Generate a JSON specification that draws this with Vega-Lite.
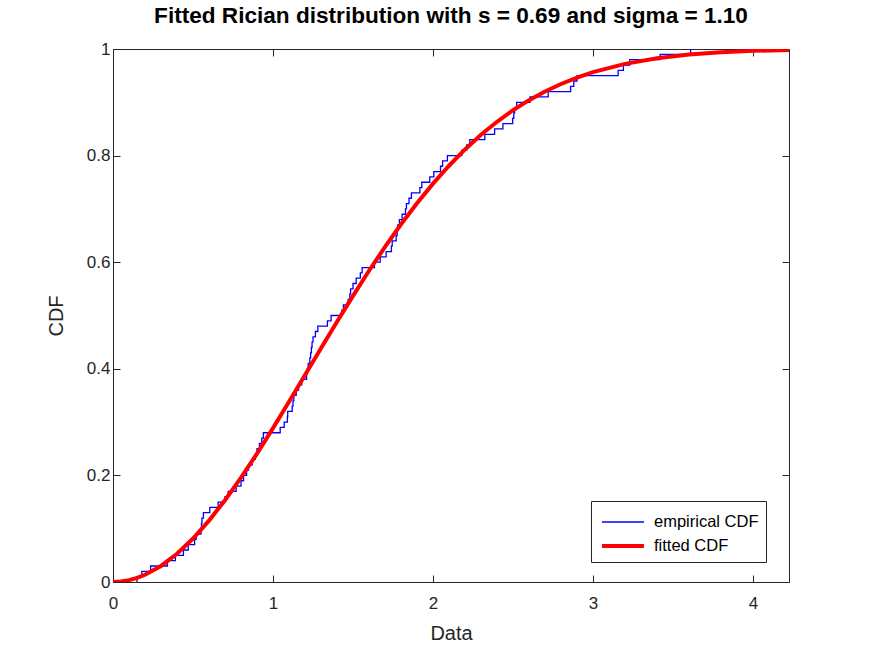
{
  "$schema": "https://vega.github.io/schema/vega-lite/v6.json",
  "autosize": {"type": "none"},
  "padding": {"left": 113, "top": 49, "right": 83, "bottom": 72},
  "width": 676,
  "height": 533,
  "background": "white",
  "config": {
    "view": {"stroke": "#262626", "strokeWidth": 1},
    "font": "Liberation Sans",
    "axis": {
      "domain": false,
      "grid": false,
      "tickColor": "#262626",
      "labelColor": "#262626",
      "titleColor": "#262626",
      "labelFont": "Liberation Sans",
      "titleFont": "Liberation Sans",
      "labelFontSize": 17,
      "titleFontSize": 20,
      "titleFontWeight": "normal",
      "labelFlush": false,
      "tickSize": -7
    }
  },
  "title": {
    "text": "Fitted Rician distribution with s = 0.69 and sigma = 1.10",
    "font": "Liberation Sans",
    "fontSize": 22.6,
    "fontWeight": "bold",
    "color": "#000000",
    "offset": 12,
    "anchor": "middle"
  },
  "resolve": {"axis": {"x": "independent", "y": "independent"}},
  "layer": [
    {
      "data": {
        "values": [
          {"series": "empirical CDF", "i": 0, "x": 0.15, "F": 0.0},
          {"series": "empirical CDF", "i": 1, "x": 0.15, "F": 0.01},
          {"series": "empirical CDF", "i": 2, "x": 0.18, "F": 0.02},
          {"series": "empirical CDF", "i": 3, "x": 0.235, "F": 0.03},
          {"series": "empirical CDF", "i": 4, "x": 0.34, "F": 0.04},
          {"series": "empirical CDF", "i": 5, "x": 0.39, "F": 0.05},
          {"series": "empirical CDF", "i": 6, "x": 0.44, "F": 0.06},
          {"series": "empirical CDF", "i": 7, "x": 0.47, "F": 0.07},
          {"series": "empirical CDF", "i": 8, "x": 0.51, "F": 0.08},
          {"series": "empirical CDF", "i": 9, "x": 0.52, "F": 0.09},
          {"series": "empirical CDF", "i": 10, "x": 0.55, "F": 0.10},
          {"series": "empirical CDF", "i": 11, "x": 0.553, "F": 0.11},
          {"series": "empirical CDF", "i": 12, "x": 0.556, "F": 0.12},
          {"series": "empirical CDF", "i": 13, "x": 0.565, "F": 0.13},
          {"series": "empirical CDF", "i": 14, "x": 0.605, "F": 0.14},
          {"series": "empirical CDF", "i": 15, "x": 0.657, "F": 0.15},
          {"series": "empirical CDF", "i": 16, "x": 0.70, "F": 0.16},
          {"series": "empirical CDF", "i": 17, "x": 0.72, "F": 0.17},
          {"series": "empirical CDF", "i": 18, "x": 0.77, "F": 0.18},
          {"series": "empirical CDF", "i": 19, "x": 0.80, "F": 0.19},
          {"series": "empirical CDF", "i": 20, "x": 0.816, "F": 0.20},
          {"series": "empirical CDF", "i": 21, "x": 0.835, "F": 0.21},
          {"series": "empirical CDF", "i": 22, "x": 0.847, "F": 0.22},
          {"series": "empirical CDF", "i": 23, "x": 0.87, "F": 0.23},
          {"series": "empirical CDF", "i": 24, "x": 0.89, "F": 0.24},
          {"series": "empirical CDF", "i": 25, "x": 0.90, "F": 0.25},
          {"series": "empirical CDF", "i": 26, "x": 0.915, "F": 0.26},
          {"series": "empirical CDF", "i": 27, "x": 0.93, "F": 0.27},
          {"series": "empirical CDF", "i": 28, "x": 0.94, "F": 0.28},
          {"series": "empirical CDF", "i": 29, "x": 1.045, "F": 0.29},
          {"series": "empirical CDF", "i": 30, "x": 1.07, "F": 0.30},
          {"series": "empirical CDF", "i": 31, "x": 1.09, "F": 0.31},
          {"series": "empirical CDF", "i": 32, "x": 1.092, "F": 0.32},
          {"series": "empirical CDF", "i": 33, "x": 1.12, "F": 0.33},
          {"series": "empirical CDF", "i": 34, "x": 1.125, "F": 0.34},
          {"series": "empirical CDF", "i": 35, "x": 1.13, "F": 0.35},
          {"series": "empirical CDF", "i": 36, "x": 1.145, "F": 0.36},
          {"series": "empirical CDF", "i": 37, "x": 1.16, "F": 0.37},
          {"series": "empirical CDF", "i": 38, "x": 1.18, "F": 0.38},
          {"series": "empirical CDF", "i": 39, "x": 1.21, "F": 0.39},
          {"series": "empirical CDF", "i": 40, "x": 1.215, "F": 0.40},
          {"series": "empirical CDF", "i": 41, "x": 1.22, "F": 0.41},
          {"series": "empirical CDF", "i": 42, "x": 1.23, "F": 0.42},
          {"series": "empirical CDF", "i": 43, "x": 1.235, "F": 0.43},
          {"series": "empirical CDF", "i": 44, "x": 1.24, "F": 0.44},
          {"series": "empirical CDF", "i": 45, "x": 1.244, "F": 0.45},
          {"series": "empirical CDF", "i": 46, "x": 1.25, "F": 0.46},
          {"series": "empirical CDF", "i": 47, "x": 1.265, "F": 0.47},
          {"series": "empirical CDF", "i": 48, "x": 1.28, "F": 0.48},
          {"series": "empirical CDF", "i": 49, "x": 1.34, "F": 0.49},
          {"series": "empirical CDF", "i": 50, "x": 1.363, "F": 0.50},
          {"series": "empirical CDF", "i": 51, "x": 1.43, "F": 0.51},
          {"series": "empirical CDF", "i": 52, "x": 1.44, "F": 0.52},
          {"series": "empirical CDF", "i": 53, "x": 1.47, "F": 0.53},
          {"series": "empirical CDF", "i": 54, "x": 1.48, "F": 0.54},
          {"series": "empirical CDF", "i": 55, "x": 1.485, "F": 0.55},
          {"series": "empirical CDF", "i": 56, "x": 1.50, "F": 0.56},
          {"series": "empirical CDF", "i": 57, "x": 1.52, "F": 0.57},
          {"series": "empirical CDF", "i": 58, "x": 1.546, "F": 0.58},
          {"series": "empirical CDF", "i": 59, "x": 1.557, "F": 0.59},
          {"series": "empirical CDF", "i": 60, "x": 1.634, "F": 0.60},
          {"series": "empirical CDF", "i": 61, "x": 1.67, "F": 0.61},
          {"series": "empirical CDF", "i": 62, "x": 1.707, "F": 0.62},
          {"series": "empirical CDF", "i": 63, "x": 1.74, "F": 0.63},
          {"series": "empirical CDF", "i": 64, "x": 1.745, "F": 0.64},
          {"series": "empirical CDF", "i": 65, "x": 1.77, "F": 0.65},
          {"series": "empirical CDF", "i": 66, "x": 1.776, "F": 0.66},
          {"series": "empirical CDF", "i": 67, "x": 1.78, "F": 0.67},
          {"series": "empirical CDF", "i": 68, "x": 1.79, "F": 0.68},
          {"series": "empirical CDF", "i": 69, "x": 1.807, "F": 0.69},
          {"series": "empirical CDF", "i": 70, "x": 1.828, "F": 0.70},
          {"series": "empirical CDF", "i": 71, "x": 1.834, "F": 0.71},
          {"series": "empirical CDF", "i": 72, "x": 1.85, "F": 0.72},
          {"series": "empirical CDF", "i": 73, "x": 1.865, "F": 0.73},
          {"series": "empirical CDF", "i": 74, "x": 1.918, "F": 0.74},
          {"series": "empirical CDF", "i": 75, "x": 1.93, "F": 0.75},
          {"series": "empirical CDF", "i": 76, "x": 1.98, "F": 0.76},
          {"series": "empirical CDF", "i": 77, "x": 2.005, "F": 0.77},
          {"series": "empirical CDF", "i": 78, "x": 2.047, "F": 0.78},
          {"series": "empirical CDF", "i": 79, "x": 2.06, "F": 0.79},
          {"series": "empirical CDF", "i": 80, "x": 2.09, "F": 0.80},
          {"series": "empirical CDF", "i": 81, "x": 2.18, "F": 0.81},
          {"series": "empirical CDF", "i": 82, "x": 2.21, "F": 0.82},
          {"series": "empirical CDF", "i": 83, "x": 2.23, "F": 0.83},
          {"series": "empirical CDF", "i": 84, "x": 2.324, "F": 0.84},
          {"series": "empirical CDF", "i": 85, "x": 2.385, "F": 0.85},
          {"series": "empirical CDF", "i": 86, "x": 2.437, "F": 0.86},
          {"series": "empirical CDF", "i": 87, "x": 2.498, "F": 0.87},
          {"series": "empirical CDF", "i": 88, "x": 2.505, "F": 0.88},
          {"series": "empirical CDF", "i": 89, "x": 2.51, "F": 0.89},
          {"series": "empirical CDF", "i": 90, "x": 2.523, "F": 0.90},
          {"series": "empirical CDF", "i": 91, "x": 2.606, "F": 0.91},
          {"series": "empirical CDF", "i": 92, "x": 2.72, "F": 0.92},
          {"series": "empirical CDF", "i": 93, "x": 2.86, "F": 0.93},
          {"series": "empirical CDF", "i": 94, "x": 2.88, "F": 0.94},
          {"series": "empirical CDF", "i": 95, "x": 2.90, "F": 0.95},
          {"series": "empirical CDF", "i": 96, "x": 3.157, "F": 0.96},
          {"series": "empirical CDF", "i": 97, "x": 3.19, "F": 0.97},
          {"series": "empirical CDF", "i": 98, "x": 3.23, "F": 0.98},
          {"series": "empirical CDF", "i": 99, "x": 3.42, "F": 0.99},
          {"series": "empirical CDF", "i": 100, "x": 3.61, "F": 1.0}
        ]
      },
      "mark": {"type": "line", "interpolate": "step-after", "clip": true},
      "encoding": {
        "x": {"field": "x", "type": "quantitative", "scale": {"domain": [0, 4.225], "nice": false, "zero": false},
              "axis": {"orient": "top", "values": [0, 1, 2, 3, 4], "labels": false, "title": null}},
        "y": {"field": "F", "type": "quantitative", "scale": {"domain": [0, 1], "nice": false},
              "axis": {"orient": "right", "values": [0, 0.2, 0.4, 0.6, 0.8, 1], "labels": false, "title": null}},
        "order": {"field": "i", "type": "quantitative"},
        "color": {"field": "series", "type": "nominal",
                  "scale": {"domain": ["empirical CDF", "fitted CDF"], "range": ["#0000ff", "#ff0000"]}},
        "strokeWidth": {"field": "series", "type": "nominal",
                  "scale": {"domain": ["empirical CDF", "fitted CDF"], "range": [1.3, 4]}}
      }
    },
    {
      "data": {
        "values": [
          {"series": "fitted CDF", "x": 0, "F": 0},
          {"series": "fitted CDF", "x": 0.05, "F": 0.0008},
          {"series": "fitted CDF", "x": 0.1, "F": 0.0034},
          {"series": "fitted CDF", "x": 0.15, "F": 0.0076},
          {"series": "fitted CDF", "x": 0.2, "F": 0.0135},
          {"series": "fitted CDF", "x": 0.3, "F": 0.0301},
          {"series": "fitted CDF", "x": 0.4, "F": 0.0529},
          {"series": "fitted CDF", "x": 0.5, "F": 0.0815},
          {"series": "fitted CDF", "x": 0.6, "F": 0.1152},
          {"series": "fitted CDF", "x": 0.7, "F": 0.1535},
          {"series": "fitted CDF", "x": 0.8, "F": 0.1957},
          {"series": "fitted CDF", "x": 0.9, "F": 0.2410},
          {"series": "fitted CDF", "x": 1.0, "F": 0.2887},
          {"series": "fitted CDF", "x": 1.1, "F": 0.3381},
          {"series": "fitted CDF", "x": 1.2, "F": 0.3882},
          {"series": "fitted CDF", "x": 1.3, "F": 0.4385},
          {"series": "fitted CDF", "x": 1.4, "F": 0.4883},
          {"series": "fitted CDF", "x": 1.5, "F": 0.5369},
          {"series": "fitted CDF", "x": 1.6, "F": 0.5839},
          {"series": "fitted CDF", "x": 1.7, "F": 0.6287},
          {"series": "fitted CDF", "x": 1.8, "F": 0.6711},
          {"series": "fitted CDF", "x": 1.9, "F": 0.7107},
          {"series": "fitted CDF", "x": 2.0, "F": 0.7474},
          {"series": "fitted CDF", "x": 2.1, "F": 0.7810},
          {"series": "fitted CDF", "x": 2.2, "F": 0.8116},
          {"series": "fitted CDF", "x": 2.3, "F": 0.8390},
          {"series": "fitted CDF", "x": 2.4, "F": 0.8635},
          {"series": "fitted CDF", "x": 2.5, "F": 0.8851},
          {"series": "fitted CDF", "x": 2.6, "F": 0.9040},
          {"series": "fitted CDF", "x": 2.7, "F": 0.9204},
          {"series": "fitted CDF", "x": 2.8, "F": 0.9344},
          {"series": "fitted CDF", "x": 2.9, "F": 0.9464},
          {"series": "fitted CDF", "x": 3.0, "F": 0.9566},
          {"series": "fitted CDF", "x": 3.2, "F": 0.9721},
          {"series": "fitted CDF", "x": 3.4, "F": 0.9826},
          {"series": "fitted CDF", "x": 3.6, "F": 0.9895},
          {"series": "fitted CDF", "x": 3.8, "F": 0.9938},
          {"series": "fitted CDF", "x": 4.0, "F": 0.9965},
          {"series": "fitted CDF", "x": 4.225, "F": 0.9983}
        ]
      },
      "mark": {"type": "line", "clip": true, "strokeCap": "butt"},
      "encoding": {
        "x": {"field": "x", "type": "quantitative", "scale": {"domain": [0, 4.225], "nice": false, "zero": false},
              "axis": {"orient": "bottom", "values": [0, 1, 2, 3, 4], "title": "Data", "labelPadding": 20, "titlePadding": 12}},
        "y": {"field": "F", "type": "quantitative", "scale": {"domain": [0, 1], "nice": false},
              "axis": {"orient": "left", "values": [0, 0.2, 0.4, 0.6, 0.8, 1], "format": "~g", "title": "CDF", "labelPadding": 10, "titlePadding": 20}},
        "color": {"field": "series", "type": "nominal",
                  "scale": {"domain": ["empirical CDF", "fitted CDF"], "range": ["#0000ff", "#ff0000"]},
                  "legend": {"title": null, "orient": "none", "legendX": 478, "legendY": 452,
                             "symbolType": "M-0.85,0H2.38", "symbolSize": 676, "labelFontSize": 16.5,
                             "labelFont": "Liberation Sans", "labelColor": "#000000",
                             "strokeColor": "#262626", "fillColor": "white", "padding": 7,
                             "labelOffset": 26, "rowPadding": 0, "columnPadding": 20}},
        "strokeWidth": {"field": "series", "type": "nominal",
                  "scale": {"domain": ["empirical CDF", "fitted CDF"], "range": [1.3, 4]},
                  "legend": {"title": null, "orient": "none", "legendX": 478, "legendY": 452,
                             "symbolType": "M-0.85,0H2.38", "symbolSize": 676, "labelFontSize": 16.5,
                             "labelFont": "Liberation Sans", "labelColor": "#000000",
                             "strokeColor": "#262626", "fillColor": "white", "padding": 7,
                             "labelOffset": 26, "rowPadding": 0, "columnPadding": 20}}
      }
    }
  ]
}
